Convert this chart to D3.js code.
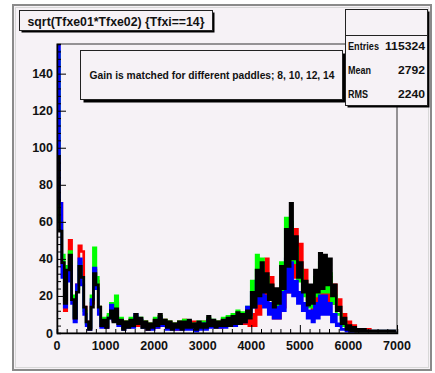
<!DOCTYPE html>
<html>
<head>
<meta charset="utf-8">
<script src="https://cdn.jsdelivr.net/npm/d3@7"></script>
<style>
  body { margin: 0; background: #fff; }
  text { font-family: "Liberation Sans", Arial, sans-serif; fill: #111; }
</style>
</head>
<body>
<div id="chart"></div>
<script>
// bin width 50, range 0..7000 -> 140 bins per paddle
const binWidth = 50;
const xTicks = [0, 1000, 2000, 3000, 4000, 5000, 6000, 7000];
const yTicks = [0, 20, 40, 60, 80, 100, 120, 140];

const redCounts = [
  105, 70, 36, 12, 34, 50, 18, 8, 26, 47, 44, 14, 6, 3, 16, 34, 28, 14, 4, 7,
  3, 9, 14, 7, 16, 6, 7, 3, 6, 4, 7, 4, 8, 4, 7, 3, 6, 2, 5, 3,
  7, 3, 9, 5, 7, 3, 6, 3, 5, 2, 6, 3, 7, 3, 6, 3, 6, 2, 5, 3,
  6, 3, 7, 4, 6, 4, 6, 3, 7, 4, 8, 4, 8, 5, 9, 5, 10, 5, 8, 4,
  10, 4, 22, 10, 32, 16, 40, 18, 30, 8, 18, 8, 26, 14, 36, 22, 50, 30, 56, 34,
  48, 28, 34, 18, 24, 12, 22, 10, 26, 12, 28, 14, 30, 16, 26, 14, 18, 8, 10, 4,
  6, 2, 4, 1, 2, 1, 2, 0, 2, 0, 1, 0, 1, 0, 1, 0, 1, 0, 1, 0
];
const greenCounts = [
  152, 60, 42, 18, 36, 44, 20, 9, 24, 38, 30, 12, 5, 3, 20, 46, 30, 14, 5, 8,
  4, 10, 16, 8, 20, 7, 8, 3, 6, 4, 8, 4, 9, 5, 8, 3, 6, 3, 5, 3,
  8, 4, 9, 5, 7, 3, 6, 3, 5, 3, 6, 3, 7, 3, 6, 3, 5, 2, 6, 3,
  6, 3, 8, 4, 7, 4, 6, 4, 8, 4, 9, 5, 10, 6, 12, 6, 11, 7, 14, 9,
  28, 16, 42, 22, 40, 24, 30, 18, 24, 14, 22, 14, 38, 22, 62, 36, 60, 38, 46, 28,
  34, 20, 26, 14, 24, 14, 30, 20, 38, 22, 36, 22, 32, 16, 20, 10, 10, 4, 5, 2,
  3, 1, 2, 0, 2, 0, 1, 0, 1, 0, 1, 0, 1, 0, 1, 0, 1, 0, 1, 0
];
const blueCounts = [
  156, 70, 30, 14, 28, 36, 16, 6, 26, 40, 26, 10, 4, 2, 18, 35, 24, 10, 3, 6,
  3, 8, 15, 7, 12, 4, 6, 2, 5, 3, 6, 3, 10, 5, 7, 3, 5, 2, 4, 2,
  6, 3, 8, 4, 6, 2, 5, 2, 4, 2, 5, 2, 5, 2, 6, 2, 4, 1, 5, 2,
  5, 2, 7, 3, 6, 3, 5, 3, 6, 3, 7, 4, 8, 4, 9, 5, 8, 6, 14, 10,
  22, 14, 28, 16, 26, 14, 20, 10, 16, 8, 14, 8, 22, 12, 40, 22, 38, 20, 28, 16,
  22, 12, 16, 8, 12, 6, 16, 8, 20, 10, 20, 10, 16, 6, 10, 4, 5, 2, 2, 1,
  2, 0, 1, 0, 1, 0, 1, 0, 1, 0, 1, 0, 1, 0, 1, 0, 1, 0, 1, 0
];
const blackCounts = [
  95, 55, 38, 16, 34, 42, 18, 8, 22, 36, 30, 14, 6, 2, 14, 32, 26, 14, 4, 7,
  3, 8, 12, 6, 13, 5, 7, 2, 6, 3, 7, 4, 10, 5, 8, 3, 6, 2, 5, 3,
  7, 4, 10, 5, 7, 3, 6, 2, 5, 3, 6, 2, 6, 3, 7, 3, 5, 2, 6, 3,
  5, 3, 9, 4, 7, 3, 6, 4, 7, 4, 8, 4, 9, 5, 11, 5, 10, 6, 12, 8,
  22, 14, 34, 20, 38, 22, 32, 18, 26, 14, 24, 16, 36, 24, 56, 36, 70, 40, 52, 30,
  38, 22, 28, 15, 26, 16, 34, 22, 43, 24, 42, 26, 40, 20, 26, 12, 14, 5, 8, 2,
  4, 1, 3, 0, 2, 0, 2, 0, 1, 0, 1, 0, 1, 0, 1, 0, 1, 0, 1, 0
];

const paddles = [
  { name: "8", color: "#ff0000", counts: redCounts },
  { name: "10", color: "#00ff00", counts: greenCounts },
  { name: "12", color: "#0000ff", counts: blueCounts },
  { name: "14", color: "#000000", counts: blackCounts }
];

const statLabels = ["Entries", "Mean", "RMS"];
const statValues = ["115324", "2792", "2240"];

const W = 435, H = 373;
const plot = { left: 57, top: 44, right: 397, bottom: 333 };

const svg = d3.select("#chart").append("svg")
  .attr("width", W).attr("height", H);

// canvas frame
svg.append("rect")
  .attr("x", 13).attr("y", 5).attr("width", 418).attr("height", 365)
  .attr("fill", "#f6f2f6").attr("stroke", "#8a8a8a").attr("stroke-width", 2);
svg.append("rect")
  .attr("x", 15.5).attr("y", 7.5).attr("width", 413).attr("height", 360)
  .attr("fill", "none").attr("stroke", "#d8d8d8").attr("stroke-width", 1);

const x = d3.scaleLinear().domain([0, 7000]).range([plot.left, plot.right]);
const y = d3.scaleLinear().domain([0, 156]).range([plot.bottom, plot.top]);

svg.append("clipPath").attr("id", "clip")
  .append("rect")
  .attr("x", plot.left).attr("y", plot.top)
  .attr("width", plot.right - plot.left).attr("height", plot.bottom - plot.top);

const step = d3.line().x(d => x(d[0])).y(d => y(d[1]));
const histPoints = counts => counts.flatMap((c, i) => [[i * binWidth, c], [(i + 1) * binWidth, c]]);

const hist = svg.append("g").attr("clip-path", "url(#clip)");
paddles.forEach(p => {
  hist.append("path")
    .datum(histPoints(p.counts))
    .attr("d", step)
    .attr("fill", "none")
    .attr("stroke", p.color)
    .attr("stroke-width", 2.7)
    .attr("stroke-linejoin", "miter");
});

// frame of the pad
svg.append("rect")
  .attr("x", plot.left).attr("y", plot.top)
  .attr("width", plot.right - plot.left).attr("height", plot.bottom - plot.top)
  .attr("fill", "none").attr("stroke", "#333").attr("stroke-width", 1);

// axes, ROOT style: ticks inside the frame
const xAxis = svg.append("g").attr("transform", `translate(0,${plot.bottom})`);
xAxis.call(d3.axisTop(x).tickValues(d3.range(0, 7001, 200)).tickSize(4).tickFormat(""));
xAxis.call(g => g.selectAll(".tick").filter(d => d % 1000 === 0).select("line").attr("y2", -8));
xAxis.selectAll(".tick text").remove();
xAxis.select(".domain").attr("stroke", "#000").attr("stroke-width", 1.5);
xAxis.selectAll(".tick line").attr("stroke", "#000");
xAxis.selectAll(".lbl").data(xTicks).enter().append("text")
  .attr("x", d => x(d)).attr("y", 17)
  .attr("text-anchor", "middle")
  .attr("font-size", 12.5).attr("font-weight", "bold")
  .text(d => d);

const yAxis = svg.append("g").attr("transform", `translate(${plot.left},0)`);
yAxis.call(d3.axisRight(y).tickValues(d3.range(0, 157, 4)).tickSize(4).tickFormat(""));
yAxis.call(g => g.selectAll(".tick").filter(d => d % 20 === 0).select("line").attr("x2", 9));
yAxis.selectAll(".tick text").remove();
yAxis.select(".domain").attr("stroke", "#000").attr("stroke-width", 1.5);
yAxis.selectAll(".tick line").attr("stroke", "#000");
yAxis.selectAll(".lbl").data(yTicks).enter().append("text")
  .attr("x", -4).attr("y", d => y(d) + 4.5)
  .attr("text-anchor", "end")
  .attr("font-size", 12.5).attr("font-weight", "bold")
  .text(d => d);

// boxes with shadows
function box(x0, y0, w, h, sh) {
  svg.append("rect").attr("x", x0 + sh).attr("y", y0 + sh).attr("width", w).attr("height", h)
    .attr("fill", "#000");
  svg.append("rect").attr("x", x0).attr("y", y0).attr("width", w).attr("height", h)
    .attr("fill", "#f6f2f6").attr("stroke", "#222").attr("stroke-width", 1);
}

// title
box(19.5, 10.5, 193, 20, 2);
svg.append("text").attr("x", 116).attr("y", 26)
  .attr("text-anchor", "middle").attr("font-size", 12.5).attr("font-weight", "bold")
  .attr("textLength", 177).attr("lengthAdjust", "spacingAndGlyphs")
  .text("sqrt(Tfxe01*Tfxe02) {Tfxi==14}");

// comment
box(80.5, 50.5, 262, 49, 3);
svg.append("text").attr("x", 212).attr("y", 79)
  .attr("text-anchor", "middle").attr("font-size", 10.5).attr("font-weight", "bold")
  .attr("textLength", 245).attr("lengthAdjust", "spacingAndGlyphs")
  .text("Gain is matched for different paddles; 8, 10, 12, 14");

// stats
box(345.5, 9.5, 82, 96, 2);
svg.append("line").attr("x1", 345.5).attr("x2", 427.5).attr("y1", 35.5).attr("y2", 35.5)
  .attr("stroke", "#222");
const labelLen = [31, 23, 20];
const valueLen = [40, 27, 27];
statLabels.forEach((s, i) => {
  svg.append("text").attr("x", 348).attr("y", 50 + i * 24)
    .attr("font-size", 11).attr("font-weight", "bold")
    .attr("textLength", labelLen[i]).attr("lengthAdjust", "spacingAndGlyphs")
    .text(s);
  svg.append("text").attr("x", 425).attr("y", 50 + i * 24)
    .attr("text-anchor", "end").attr("font-size", 11).attr("font-weight", "bold")
    .attr("textLength", valueLen[i]).attr("lengthAdjust", "spacingAndGlyphs")
    .text(statValues[i]);
});
</script>
</body>
</html>
